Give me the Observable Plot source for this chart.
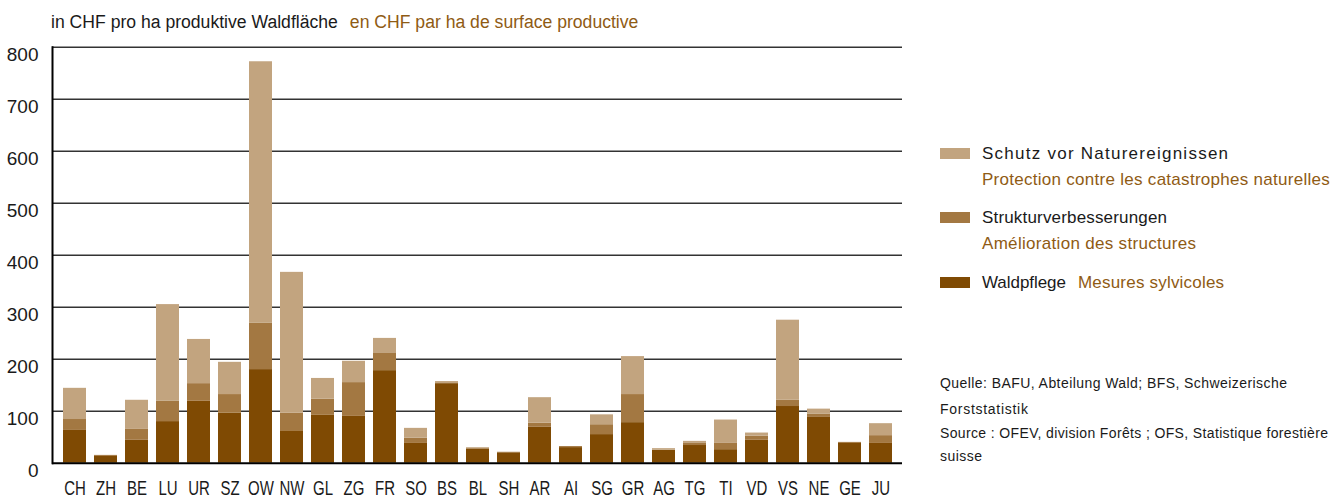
<!DOCTYPE html>
<html>
<head>
<meta charset="utf-8">
<script src="https://cdn.jsdelivr.net/npm/d3@7"></script>
<script src="https://cdn.jsdelivr.net/npm/@observablehq/plot@0.6"></script>
<style>
  html, body { margin: 0; padding: 0; background: #fff; }
  #wrap { position: relative; width: 1333px; height: 498px; overflow: hidden; font-family: "Liberation Sans", Arial, sans-serif; }
  #title { position: absolute; left: 51px; top: 12px; font-size: 17.6px; color: #1a1a1a; white-space: nowrap; }
  #title .fr { color: #8f5b14; margin-left: 12px; }
  #chart { position: absolute; left: 0; top: 40px; }
  .leg { position: absolute; left: 982px; font-size: 17px; color: #1a1a1a; white-space: nowrap; }
  .sw { position: absolute; left: 940px; width: 30px; height: 11px; }
  .fr2 { color: #8f5b14; }
  .src { position: absolute; left: 940px; font-size: 14px; white-space: nowrap; color: #1a1a1a; }
</style>
</head>
<body>
<div id="wrap">
  <div id="title">in CHF pro ha produktive Waldfläche<span class="fr">en CHF par ha de surface productive</span></div>
  <div id="chart"></div>
  <div id="legend"></div>
</div>
<script>
const categories = ["CH","ZH","BE","LU","UR","SZ","OW","NW","GL","ZG","FR","SO","BS","BL","SH","AR","AI","SG","GR","AG","TG","TI","VD","VS","NE","GE","JU"];
const waldpflege = [63, 13, 44, 80, 119, 96, 180, 61, 92, 90, 178, 38, 153, 27, 20, 69, 30, 55, 78, 25, 34, 26, 44, 109, 88, 38, 38];
const struktur   = [21,  2, 21, 39,  34, 36,  89, 35, 31, 65,  33, 10,   0,  2,  1,  8,  2, 19, 54,  0,  4, 13,  8,  12,  6,  2, 15];
const schutz     = [60,  0, 56, 186, 85, 62, 503, 271, 40, 41, 29, 19,   4,  1,  0, 49,  0, 19, 73,  3,  4, 44,  6, 154, 10,  0, 23];
const seriesDe = ["Waldpflege", "Strukturverbesserungen", "Schutz vor Naturereignissen"];
const seriesFr = ["Mesures sylvicoles", "Amélioration des structures", "Protection contre les catastrophes naturelles"];
const colors = ["#7f4a03", "#a37842", "#c2a47f"];
const yTicks = [0, 100, 200, 300, 400, 500, 600, 700, 800];
const sourceDe = ["Quelle: BAFU, Abteilung Wald; BFS, Schweizerische", "Forststatistik"];
const sourceFr = ["Source : OFEV, division Forêts ; OFS, Statistique forestière", "suisse"];

const rows = [];
categories.forEach((c, i) => {
  rows.push({canton: c, series: seriesDe[0], value: waldpflege[i]});
  rows.push({canton: c, series: seriesDe[1], value: struktur[i]});
  rows.push({canton: c, series: seriesDe[2], value: schutz[i]});
});

const plot = Plot.plot({
  width: 1333,
  height: 458,
  marginLeft: 52,
  marginRight: 431,
  marginTop: 6.7,
  marginBottom: 35.3,
  style: {fontFamily: "'Liberation Sans', Arial, sans-serif", color: "#1a1a1a", background: "transparent"},
  x: {domain: categories, paddingInner: 0.27, paddingOuter: 0.13, axis: null},
  y: {domain: [0, 800], axis: null},
  color: {domain: seriesDe, range: colors},
  marks: [
    Plot.ruleY(yTicks.filter(d => d > 0), {stroke: "#333", strokeWidth: 1.6}),
    Plot.barY(rows, {x: "canton", y: "value", fill: "series", order: seriesDe}),
    Plot.ruleY([0], {stroke: "#000", strokeWidth: 2}),
    Plot.frame({anchor: "left", stroke: "#000", strokeWidth: 2}),
    Plot.axisY({ticks: yTicks, label: null, tickSize: 0, tickPadding: 14, dy: 8, fontSize: 19, tickFormat: d => String(d)}),
    Plot.axisX({label: null, tickSize: 0, tickPadding: 17.5, fontSize: 20})
  ]
});
document.getElementById("chart").appendChild(plot);

// condense the x tick labels horizontally (the reference uses a condensed face)
d3.select(plot).selectAll("g[aria-label='x-axis tick label'] text").each(function() {
  const t = this.getAttribute("transform") || "";
  this.setAttribute("transform", t + " scale(0.75,1)");
});

// fit a text element's width to the reference by letter-spacing
function fit(el, target) {
  const w = el.getBoundingClientRect().width;
  const n = Math.max(1, el.textContent.length - 1);
  el.style.letterSpacing = ((target - w) / n).toFixed(2) + "px";
}

// legend
const legend = document.getElementById("legend");
const rowsY = [154, 218, 283];
const order = [2, 1, 0];
const deWidths = {0: 84, 1: 185, 2: 246};
const frWidths = {0: 146, 1: 214, 2: 348};
order.forEach((si, k) => {
  const cy = rowsY[k];
  const sw = document.createElement("div");
  sw.className = "sw";
  sw.style.top = (cy - 6) + "px";
  sw.style.background = colors[si];
  legend.appendChild(sw);
  const t = document.createElement("div");
  t.className = "leg";
  t.style.top = (cy - 10) + "px";
  t.textContent = seriesDe[si];
  legend.appendChild(t);
  fit(t, deWidths[si]);
  const f = document.createElement("div");
  f.className = "leg fr2";
  if (si === 0) {
    f.style.left = "1078px";
    f.style.top = (cy - 10) + "px";
  } else {
    f.style.top = (cy + 16) + "px";
  }
  f.textContent = seriesFr[si];
  legend.appendChild(f);
  fit(f, frWidths[si]);
});
const srcY = [384, 410, 434, 457];
const srcWidths = [347, 88, 388, 42];
[...sourceDe, ...sourceFr].forEach((s, i) => {
  const d = document.createElement("div");
  d.className = "src" + (i >= 2 ? " fr2" : "");
  d.style.top = (srcY[i] - 9) + "px";
  d.textContent = s;
  legend.appendChild(d);
  fit(d, srcWidths[i]);
});
</script>
</body>
</html>
